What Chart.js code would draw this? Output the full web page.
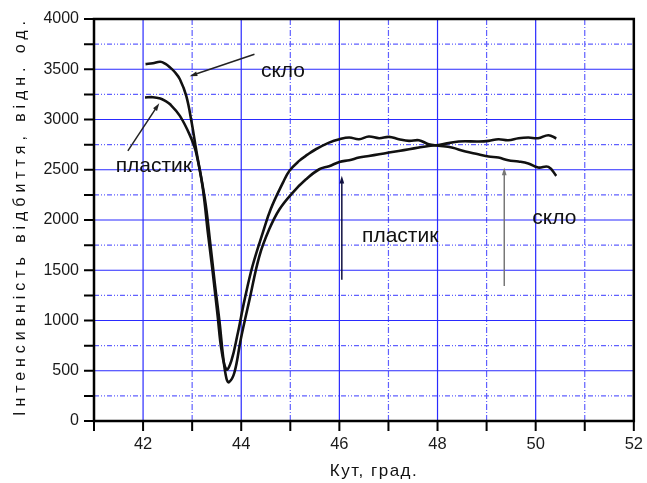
<!DOCTYPE html>
<html>
<head>
<meta charset="utf-8">
<script src="https://cdn.jsdelivr.net/npm/chart.js@4/dist/chart.umd.min.js"></script>
<style>
  html, body { margin: 0; padding: 0; background: #fff; }
  #wrap { width: 647px; height: 483px; }
</style>
</head>
<body>
<div id="wrap"><canvas id="chart" width="647" height="483"></canvas></div>
<script>
// скло (glass)
const scloX = [42.05, 42.2, 42.35, 42.45, 42.55, 42.65, 42.75, 42.88, 42.99, 43.08, 43.22, 43.32, 43.42, 43.52, 43.6, 43.7,
  43.8, 43.92, 44.07, 44.23, 44.44, 44.6, 44.85, 44.98, 45.18, 45.35, 45.52, 45.79, 46.0, 46.2, 46.4, 46.6, 46.81, 47.01,
  47.21, 47.42, 47.62, 47.82, 48.02, 48.29, 48.57, 48.83, 49.04, 49.24, 49.44, 49.65, 49.85, 50.05, 50.26, 50.42];
const scloY = [3551, 3560, 3574, 3555, 3518, 3470, 3401, 3235, 2970, 2704, 2306, 1874, 1476, 1044, 700, 513,
  600, 850, 1210, 1542, 1874, 2107, 2372, 2488, 2588, 2650, 2704, 2770, 2804, 2821, 2804, 2831, 2814, 2827,
  2804, 2787, 2794, 2754, 2740, 2721, 2681, 2654, 2631, 2621, 2595, 2582, 2562, 2522, 2528, 2440];

// пластик (plastic)
const plastX = [42.04, 42.2, 42.35, 42.45, 42.55, 42.75, 42.96, 43.08, 43.26, 43.36, 43.46, 43.56, 43.63, 43.7, 43.75,
  43.86, 43.99, 44.17, 44.37, 44.57, 44.78, 45.05, 45.32, 45.59, 45.79, 46.0, 46.2, 46.4, 46.6, 46.81, 47.01, 47.21,
  47.42, 47.62, 47.82, 48.02, 48.43, 48.84, 49.04, 49.24, 49.44, 49.65, 49.85, 50.05, 50.26, 50.42];
const plastY = [3219, 3222, 3209, 3185, 3152, 3036, 2837, 2671, 2206, 1808, 1376, 978, 645, 420, 386,
  480, 812, 1210, 1641, 1907, 2107, 2273, 2405, 2505, 2535, 2578, 2595, 2621, 2637, 2654, 2671, 2687,
  2704, 2721, 2737, 2747, 2781, 2781, 2787, 2804, 2794, 2814, 2821, 2814, 2844, 2811];

// labels and arrows, in data units
const notes = [
  { text: 'скло', x: 44.85, y: 3480 },
  { text: 'пластик', x: 42.22, y: 2535 },
  { text: 'пластик', x: 47.24, y: 1838 },
  { text: 'скло', x: 50.38, y: 2017 }
];
const arrows = [
  { from: [44.27, 3650], to: [42.95, 3431], color: '#222' },
  { from: [41.69, 2687], to: [42.33, 3162], color: '#222' },
  { from: [46.05, 1405], to: [46.05, 2440], color: '#101040' },
  { from: [49.36, 1343], to: [49.36, 2522], color: '#777' }
];

const xTitle = 'Кут, град.';
const yTitle = 'Інтенсивність відбиття, відн. од.';

const blueMajor = '#2a2aff';
const blueMinor = '#6060ff';
const font = '"Liberation Sans", Arial, sans-serif';

function isMajor(scale, v) {
  return scale.axis === 'x' ? v % 2 === 0 : v % 500 === 0;
}

const grid = {
  id: 'grid',
  beforeDatasetsDraw(chart) {
    const ctx = chart.ctx;
    const a = chart.chartArea;
    ctx.save();
    ctx.lineWidth = 1.2;
    chart.scales.x.ticks.forEach(t => {
      const px = chart.scales.x.getPixelForValue(t.value);
      const major = isMajor(chart.scales.x, t.value);
      ctx.strokeStyle = major ? blueMajor : blueMinor;
      ctx.setLineDash(major ? [] : [6, 2, 1, 2]);
      ctx.beginPath();
      ctx.moveTo(px, a.top);
      ctx.lineTo(px, a.bottom);
      ctx.stroke();
    });
    chart.scales.y.ticks.forEach(t => {
      const py = chart.scales.y.getPixelForValue(t.value);
      const major = isMajor(chart.scales.y, t.value);
      ctx.strokeStyle = major ? blueMajor : blueMinor;
      ctx.setLineDash(major ? [] : [5, 2, 1, 2, 1, 2]);
      ctx.beginPath();
      ctx.moveTo(a.left, py);
      ctx.lineTo(a.right, py);
      ctx.stroke();
    });
    ctx.restore();
  },
  afterDatasetsDraw(chart) {
    const ctx = chart.ctx;
    const xs = chart.scales.x, ys = chart.scales.y;
    const a = chart.chartArea;
    ctx.save();
    // frame and tick marks
    ctx.strokeStyle = '#000';
    ctx.lineWidth = 2.5;
    ctx.strokeRect(a.left, a.top, a.right - a.left, a.bottom - a.top);
    ctx.lineWidth = 2;
    ctx.beginPath();
    xs.ticks.forEach(t => {
      const px = xs.getPixelForValue(t.value);
      ctx.moveTo(px, a.bottom);
      ctx.lineTo(px, a.bottom + 10);
    });
    ys.ticks.forEach(t => {
      const py = ys.getPixelForValue(t.value);
      ctx.moveTo(a.left, py);
      ctx.lineTo(a.left - 10, py);
    });
    ctx.stroke();
    // notes
    ctx.fillStyle = '#111';
    ctx.font = '21px ' + font;
    ctx.textAlign = 'center';
    ctx.textBaseline = 'middle';
    notes.forEach(n => ctx.fillText(n.text, xs.getPixelForValue(n.x), ys.getPixelForValue(n.y)));
    // arrows
    arrows.forEach(ar => {
      const x1 = xs.getPixelForValue(ar.from[0]), y1 = ys.getPixelForValue(ar.from[1]);
      const x2 = xs.getPixelForValue(ar.to[0]), y2 = ys.getPixelForValue(ar.to[1]);
      const ang = Math.atan2(y2 - y1, x2 - x1);
      ctx.strokeStyle = ar.color;
      ctx.fillStyle = ar.color;
      ctx.lineWidth = 1.5;
      ctx.beginPath();
      ctx.moveTo(x1, y1);
      ctx.lineTo(x2 - 5 * Math.cos(ang), y2 - 5 * Math.sin(ang));
      ctx.stroke();
      ctx.beginPath();
      ctx.moveTo(x2, y2);
      ctx.lineTo(x2 - 8 * Math.cos(ang - 0.3), y2 - 8 * Math.sin(ang - 0.3));
      ctx.lineTo(x2 - 8 * Math.cos(ang + 0.3), y2 - 8 * Math.sin(ang + 0.3));
      ctx.closePath();
      ctx.fill();
    });
    // axis titles
    ctx.fillStyle = '#111';
    ctx.font = '17px ' + font;
    ctx.letterSpacing = '1.5px';
    ctx.fillText(xTitle, 374, 471);
    ctx.font = '16px ' + font;
    ctx.letterSpacing = '0px';
    const w = ctx.measureText(yTitle).width;
    ctx.letterSpacing = ((400 - w) / yTitle.length).toFixed(2) + 'px';
    ctx.translate(21, 216);
    ctx.rotate(-Math.PI / 2);
    ctx.fillText(yTitle, 0, 0);
    ctx.restore();
  }
};

new Chart(document.getElementById('chart'), {
  type: 'line',
  data: {
    datasets: [
      {
        label: 'скло',
        data: scloX.map((x, i) => ({ x: x, y: scloY[i] })),
        borderColor: '#111',
        borderWidth: 2.6,
        pointRadius: 0,
        tension: 0.4,
        fill: false
      },
      {
        label: 'пластик',
        data: plastX.map((x, i) => ({ x: x, y: plastY[i] })),
        borderColor: '#111',
        borderWidth: 2.6,
        pointRadius: 0,
        tension: 0.4,
        fill: false
      }
    ]
  },
  options: {
    responsive: false,
    animation: false,
    layout: { padding: { top: 19, right: 11, left: 0, bottom: 0 } },
    plugins: { legend: { display: false }, tooltip: { enabled: false } },
    scales: {
      x: {
        type: 'linear',
        min: 41,
        max: 52,
        afterFit: s => { s.height = 62; },
        ticks: {
          stepSize: 1,
          autoSkip: false,
          maxRotation: 0,
          padding: 4,
          color: '#1a1a1a',
          font: { size: 16.5, family: font },
          callback: v => (v % 2 === 0 ? v : '')
        },
        grid: { display: false, drawTicks: true, tickLength: 10 },
        border: { display: false }
      },
      y: {
        min: 0,
        max: 4000,
        afterFit: s => { s.width = 94; },
        ticks: {
          stepSize: 250,
          autoSkip: false,
          padding: 5,
          color: '#1a1a1a',
          font: { size: 16, family: font },
          callback: v => (v % 500 === 0 ? v : '')
        },
        grid: { display: false, drawTicks: true, tickLength: 10 },
        border: { display: false }
      }
    }
  },
  plugins: [grid]
});
</script>
</body>
</html>
